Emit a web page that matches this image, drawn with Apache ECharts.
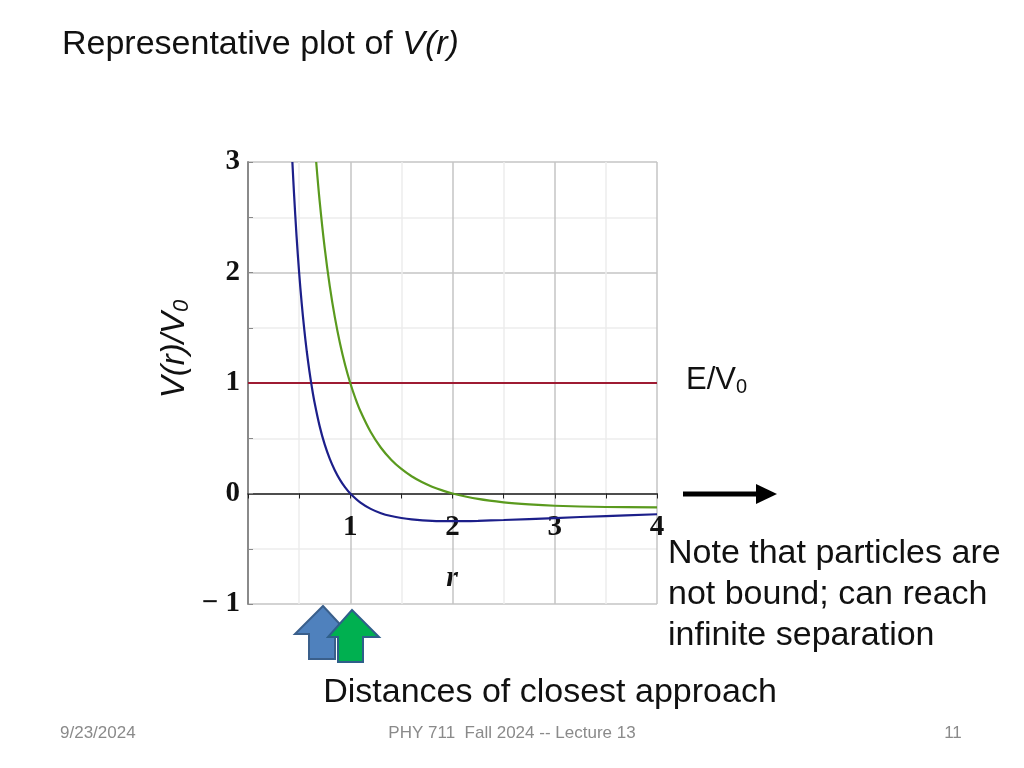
<!DOCTYPE html>
<html><head><meta charset="utf-8">
<script src="https://cdn.jsdelivr.net/npm/echarts@6/dist/echarts.min.js"></script>
<style>html,body{margin:0;padding:0;background:#fff}#c{width:1024px;height:768px}</style>
</head><body><div id="c"></div>
<script>
// Data
const blueR = [0.434,0.45,0.475,0.5,0.525,0.55,0.575,0.6,0.625,0.65,0.7,0.75,0.8,0.85,0.9,0.95,1.0,1.1,1.2,1.3,1.4,1.5,1.6,1.8,2.0,2.25,2.5,3.0,3.5,4.0];
const blueV = [3.0,2.716,2.327,2.0,1.723,1.488,1.285,1.111,0.96,0.828,0.612,0.444,0.313,0.208,0.123,0.055,0.0,-0.083,-0.139,-0.178,-0.204,-0.222,-0.234,-0.247,-0.25,-0.247,-0.24,-0.222,-0.204,-0.188];
const greenR = [0.667,0.7,0.75,0.8,0.85,0.9,0.95,1.0,1.05,1.1,1.2,1.3,1.4,1.5,1.6,1.7,1.8,1.9,2.0,2.25,2.5,2.75,3.0,3.5,4.0];
const greenV = [3.0,2.653,2.222,1.875,1.592,1.358,1.163,1.0,0.862,0.744,0.556,0.414,0.306,0.222,0.156,0.104,0.062,0.028,0.0,-0.049,-0.08,-0.099,-0.111,-0.122,-0.125];
const energyR = [0,4];
const energyV = [1,1];
const xTickLabels = {1:'1',2:'2',3:'3',4:'4'};
const yTickLabels = {'-1':'\u2212 1','0':'0','1':'1','2':'2','3':'3'};

const pairs = (a,b)=>a.map((v,i)=>[v,b[i]]);
const chart = echarts.init(document.getElementById('c'));
const sans = 'Liberation Sans, Arial, sans-serif';
const serif = 'Liberation Serif, Times New Roman, serif';
chart.setOption({
  animation:false,
  grid:{left:248,right:367,top:162,bottom:164,containLabel:false},
  xAxis:[{type:'value',min:0,max:4,interval:0.5,
    axisLine:{onZero:true,lineStyle:{color:'#222',width:1.5}},
    axisTick:{show:true,length:5,lineStyle:{color:'#222'}},
    axisLabel:{show:false},
    splitLine:{show:true,lineStyle:{color:['#c4c4c4','#ececec'],width:1.5}}
  },{type:'value',min:0,max:4,interval:0.5,position:'bottom',offset:-110.5,
    axisLine:{show:false},axisTick:{show:false},splitLine:{show:false},
    axisLabel:{margin:20,fontFamily:serif,fontWeight:'bold',fontSize:29,color:'#111',
      formatter:v=>xTickLabels[v]||''}
  }],
  yAxis:{type:'value',min:-1,max:3,interval:0.5,
    axisLine:{show:true,onZero:false,lineStyle:{color:'#8a8a8a',width:2}},
    axisTick:{show:true,inside:true,length:5,lineStyle:{color:'#8a8a8a'}},
    axisLabel:{margin:8,fontFamily:serif,fontWeight:'bold',fontSize:29,color:'#111',
      formatter:v=>yTickLabels[String(v)]||''},
    splitLine:{show:true,lineStyle:{color:['#c4c4c4','#ececec'],width:1.5}}
  },
  series:[
    {type:'line',data:pairs(energyR,energyV),showSymbol:false,lineStyle:{color:'#9e1b32',width:2.2},z:3},
    {type:'line',data:pairs(greenR,greenV),smooth:0.35,showSymbol:false,lineStyle:{color:'#5a9a1e',width:2.2},z:4},
    {type:'line',data:pairs(blueR,blueV),smooth:0.35,showSymbol:false,lineStyle:{color:'#1c1f8a',width:2.2},z:5}
  ],
  graphic:[
    {type:'text',left:62,top:28,style:{text:'{n|Representative plot of }{i|V(r)}',rich:{
      n:{fontFamily:sans,fontSize:34,fill:'#111'},i:{fontFamily:sans,fontSize:34,fontStyle:'italic',fill:'#111'}}}},
    {type:'text',x:175,y:349,rotation:Math.PI/2,style:{text:'{i|V(r)/V}{s|0}',align:'center',verticalAlign:'middle',rich:{
      i:{fontFamily:sans,fontSize:33,fontStyle:'italic',fill:'#111'},s:{fontFamily:sans,fontSize:22,fontStyle:'italic',fill:'#111',padding:[14,0,0,0]}}}},
    {type:'text',x:452,y:578,style:{text:'r',align:'center',verticalAlign:'middle',fontFamily:serif,fontSize:30,fontStyle:'italic',fontWeight:'bold',fill:'#111'}},
    {type:'text',left:686,top:365,style:{text:'{n|E/V}{s|0}',rich:{n:{fontFamily:sans,fontSize:31,fill:'#111'},s:{fontFamily:sans,fontSize:20,fill:'#111',padding:[14,0,0,0]}}}},
    {type:'line',shape:{x1:683,y1:494,x2:760,y2:494},style:{stroke:'#000',lineWidth:5}},
    {type:'polygon',shape:{points:[[756,484],[777,494],[756,504]]},style:{fill:'#000'}},
    {type:'text',left:668,top:533,style:{text:'Note that particles are\nnot bound; can reach\ninfinite separation',fontFamily:sans,fontSize:34,lineHeight:41,fill:'#111'}},
    {type:'polygon',shape:{points:[[323,606],[349,634],[335,634],[335,659],[309,659],[309,634],[295,634]]},style:{fill:'#4f81bd',stroke:'#3a5f8b',lineWidth:2}},
    {type:'polygon',shape:{points:[[352,610],[379,637],[363,637],[363,662],[338,662],[338,637],[328,637]]},style:{fill:'#00b050',stroke:'#2f5f8a',lineWidth:2}},
    {type:'text',x:550,y:693,style:{text:'Distances of closest approach',align:'center',verticalAlign:'middle',fontFamily:sans,fontSize:34,fill:'#111'}},
    {type:'text',x:60,y:733,style:{text:'9/23/2024',verticalAlign:'middle',fontFamily:sans,fontSize:17,fill:'#8a8a8a'}},
    {type:'text',x:512,y:733,style:{text:'PHY 711  Fall 2024 -- Lecture 13',align:'center',verticalAlign:'middle',fontFamily:sans,fontSize:17,fill:'#8a8a8a'}},
    {type:'text',x:953,y:733,style:{text:'11',align:'center',verticalAlign:'middle',fontFamily:sans,fontSize:17,fill:'#8a8a8a'}}
  ]
});
</script></body></html>
